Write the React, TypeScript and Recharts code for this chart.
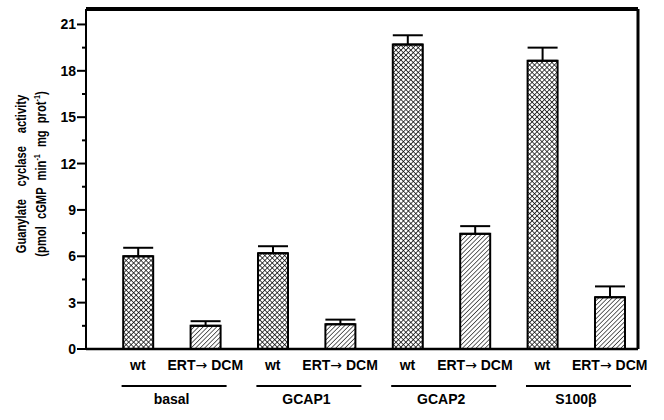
import { BarChart, Bar, XAxis, YAxis, Cell, ErrorBar, ReferenceLine } from "recharts";

const GROUPS = ["basal", "GCAP1", "GCAP2", "S100β"];
const GENOTYPES = ["wt", "ERT→ DCM"];
const WT_ACTIVITY = [6.0, 6.2, 19.7, 18.65];
const WT_SEM = [0.55, 0.45, 0.6, 0.85];
const MUTANT_ACTIVITY = [1.5, 1.6, 7.45, 3.35];
const MUTANT_SEM = [0.3, 0.3, 0.5, 0.7];
const Y_TICKS = [0, 1.5, 3, 4.5, 6, 7.5, 9, 10.5, 12, 13.5, 15, 16.5, 18, 19.5, 21];
const Y_LABELED = [0, 3, 6, 9, 12, 15, 18, 21];

const data = GROUPS.flatMap((group, g) => [
  { pos: g * 2, group, genotype: GENOTYPES[0], value: WT_ACTIVITY[g], err: [0, WT_SEM[g]], pattern: "crossHatch" },
  { pos: g * 2 + 1, group, genotype: GENOTYPES[1], value: MUTANT_ACTIVITY[g], err: [0, MUTANT_SEM[g]], pattern: "diagHatch" },
]);

const W = 664;
const H = 420;
const Y_AXIS_W = 86;
const X_AXIS_H = 71;
const MARGIN = { top: 9, right: 26, bottom: 0, left: 0 };
const X_DOMAIN = [-0.77, 7.42];
const Y_DOMAIN = [0, 22];
const STEP = (W - Y_AXIS_W - MARGIN.right) / (X_DOMAIN[1] - X_DOMAIN[0]);

const FONT = "'Liberation Sans', Arial, Helvetica, sans-serif";

// the arrow glyph in Liberation Sans is tiny, borrow DejaVu's
function Genotype({ label }: { label: string }) {
  const parts = label.split("→");
  if (parts.length < 2) return <>{label}</>;
  return (
    <>
      {parts[0]}
      <tspan fontFamily="'DejaVu Sans', sans-serif" fontWeight="normal">
        →
      </tspan>
      {parts[1]}
    </>
  );
}

function XTick({ x, y, payload }: any) {
  const i = Number(payload.value);
  const d = data[i];
  if (!d) return null;
  const groupX = x + STEP / 2;
  return (
    <g fontFamily={FONT} fontWeight="bold" fontSize={14} fill="#000">
      <text x={x} y={y + 21} textAnchor="middle">
        <Genotype label={d.genotype} />
      </text>
      {i % 2 === 0 && (
        <>
          <line x1={groupX - 50} x2={groupX + 55} y1={y + 37} y2={y + 37} stroke="#000" strokeWidth={2} />
          <text x={groupX} y={y + 55} textAnchor="middle">
            {d.group}
          </text>
        </>
      )}
    </g>
  );
}

function YTick({ x, y, payload }: any) {
  const major = Y_LABELED.includes(payload.value);
  return (
    <g>
      <line x1={x - (major ? 9 : 4)} x2={x} y1={y} y2={y} stroke="#000" strokeWidth={2} />
      {major && (
        <text x={x - 10} y={y} dy="0.36em" textAnchor="end" fontFamily={FONT} fontWeight="bold" fontSize={14} fill="#000">
          {payload.value}
        </text>
      )}
    </g>
  );
}

function YTitle(props: any) {
  const vb = props.viewBox ?? { x: 0, y: MARGIN.top, width: Y_AXIS_W, height: 340 };
  const cy = vb.y + vb.height / 2 - 5;
  const x1 = vb.x + 26;
  const x2 = vb.x + 46;
  return (
    <g fontFamily={FONT} fontWeight="bold" fill="#000">
      <text fontSize={14} transform={`translate(${x1},${cy}) rotate(-90) scale(0.8,1)`} textAnchor="middle" style={{ wordSpacing: 12 }}>
        Guanylate cyclase activity
      </text>
      <text fontSize={14} transform={`translate(${x2},${cy}) rotate(-90) scale(0.8,1)`} textAnchor="middle" style={{ wordSpacing: 5 }}>
        (pmol cGMP min
        <tspan dy={-6} fontSize={9}>-1</tspan>
        <tspan dy={6}> mg prot</tspan>
        <tspan dy={-6} fontSize={9}>-1</tspan>
        <tspan dy={6}>)</tspan>
      </text>
    </g>
  );
}

export default function App() {
  return (
    <div style={{ position: "absolute", left: 0, top: 0, width: W, height: H, background: "#fff" }}>
      <BarChart width={W} height={H} data={data} margin={MARGIN}>
        <defs>
          <pattern id="crossHatch" width={3.5} height={3.5} patternUnits="userSpaceOnUse" patternTransform="rotate(45)">
            <rect width={3.5} height={3.5} fill="#fff" />
            <line x1={0} y1={0} x2={0} y2={3.5} stroke="#000" strokeWidth={1.4} />
            <line x1={0} y1={0} x2={3.5} y2={0} stroke="#000" strokeWidth={1.4} />
          </pattern>
          <pattern id="diagHatch" width={3.2} height={10} patternUnits="userSpaceOnUse" patternTransform="rotate(45)">
            <rect width={3.2} height={10} fill="#fff" />
            <line x1={0} y1={0} x2={0} y2={10} stroke="#000" strokeWidth={1.2} />
          </pattern>
        </defs>
        <XAxis
          dataKey="pos"
          type="number"
          domain={X_DOMAIN}
          ticks={[0, 1, 2, 3, 4, 5, 6, 7]}
          interval={0}
          height={X_AXIS_H}
          tickLine={false}
          tickSize={0}
          tickMargin={0}
          axisLine={{ stroke: "#000", strokeWidth: 2.5 }}
          tick={<XTick />}
        />
        <YAxis
          domain={Y_DOMAIN}
          ticks={Y_TICKS}
          interval={0}
          width={Y_AXIS_W}
          tickLine={false}
          tickSize={0}
          tickMargin={0}
          axisLine={{ stroke: "#000", strokeWidth: 2 }}
          tick={<YTick />}
          label={<YTitle />}
        />
        {/* frame: top and right edges (half of the stroke is clipped by the plot area) */}
        <ReferenceLine y={Y_DOMAIN[1]} stroke="#000" strokeWidth={4} ifOverflow="extendDomain" />
        <ReferenceLine x={X_DOMAIN[1]} stroke="#000" strokeWidth={3} ifOverflow="extendDomain" />
        <Bar dataKey="value" barSize={30} stroke="#000" strokeWidth={2} isAnimationActive={false}>
          {data.map((d) => (
            <Cell key={d.pos} fill={`url(#${d.pattern})`} />
          ))}
          <ErrorBar dataKey="err" direction="y" width={15} stroke="#000" strokeWidth={2} />
        </Bar>
      </BarChart>
    </div>
  );
}
